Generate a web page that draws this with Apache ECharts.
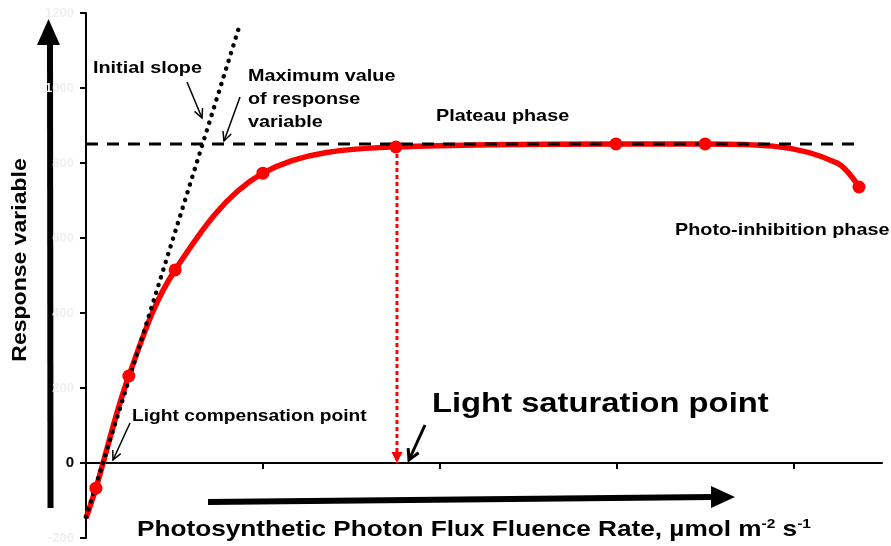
<!DOCTYPE html>
<html><head><meta charset="utf-8">
<script src="https://cdn.jsdelivr.net/npm/echarts@6/dist/echarts.min.js"></script>
<style>html,body{margin:0;padding:0;background:#fff}#c{width:891px;height:546px}</style>
</head><body><div id="c"></div>
<script>
// ---- data ----
const curveX = [0, 28, 121, 252, 500, 876, 1498, 1750, 1942, 2123, 2185];
const curveY = [-147, -67, 232, 515, 773, 843, 851, 851, 845, 800, 736];
const measuredX = [28, 121, 252, 500, 876, 1498, 1750, 2185];
const measuredY = [-67, 232, 515, 773, 843, 851, 851, 736];
const slopeX = [0, 432];
const slopeY = [-144, 1160];
const plateauX = [0, 2186];
const plateauY = [851, 851];
const saturationX = [879, 879];
const saturationY = [843, 0];
const xTickValues = [500, 1000, 1500, 2000];
const yTickValues = [-200, 0, 200, 400, 600, 800, 1000, 1200];

const FONT = '"Liberation Sans", Arial, sans-serif';
const zip = (a, b) => a.map((v, i) => [v, b[i]]);

function arrow(x1, y1, x2, y2, w, hl, ha) {
  const a = Math.atan2(y2 - y1, x2 - x1);
  const p1 = [x2 - hl * Math.cos(a - ha), y2 - hl * Math.sin(a - ha)];
  const p2 = [x2 - hl * Math.cos(a + ha), y2 - hl * Math.sin(a + ha)];
  return [
    {type: 'line', shape: {x1, y1, x2, y2}, style: {stroke: '#000', lineWidth: w}},
    {type: 'polyline', shape: {points: [p1, [x2, y2], p2]}, style: {stroke: '#000', lineWidth: w, fill: 'none'}}
  ];
}
function label(text, x, y, size, sx, extra) {
  return Object.assign({
    type: 'text', x, y, scaleX: sx || 1.2,
    style: {text, font: 'bold ' + size + 'px ' + FONT, fontWeight: 'bold', fontSize: size, fontFamily: FONT,
      fill: '#000', align: 'left', textAlign: 'left', verticalAlign: 'middle', textVerticalAlign: 'middle'}
  }, extra || {});
}

const chart = echarts.init(document.getElementById('c'), null, {renderer: 'canvas'});
const graphics = [
  // big arrows
  {type: 'polygon', shape: {points: [[47, 42], [53, 42], [53.5, 508], [47.5, 508]]}, style: {fill: '#000'}},
  {type: 'polygon', shape: {points: [[37, 45], [60, 45], [48.5, 19]]}, style: {fill: '#000'}},
  {type: 'polygon', shape: {points: [[208, 499], [713, 494], [713, 500], [208, 505]]}, style: {fill: '#000'}},
  {type: 'polygon', shape: {points: [[711, 486], [711, 508], [735, 497]]}, style: {fill: '#000'}},
  // annotation arrows
  ...arrow(187, 82, 202, 118, 1.5, 10, 0.45),
  ...arrow(240, 97, 224, 141, 1.5, 10, 0.45),
  ...arrow(130, 423, 113, 460, 1.5, 10, 0.45),
  ...arrow(425, 425, 409, 460, 3, 12, 0.5),
  // texts
  label('Initial slope', 93, 68, 16.5),
  label('Maximum value', 248, 76, 16.5),
  label('of response', 248, 99, 16.5),
  label('variable', 248, 122, 16.5),
  label('Plateau phase', 436, 116, 16.5),
  label('Photo-inhibition phase', 675, 230, 16.5),
  label('Light compensation point', 132, 417, 16),
  label('Light saturation point', 432, 404, 28, 1.17),
  label('Response variable', 21, 260, 19.5, 1.18, {rotation: Math.PI / 2, style: {
    text: 'Response variable', font: 'bold 19.5px ' + FONT, fill: '#000',
    align: 'center', textAlign: 'center', verticalAlign: 'middle', textVerticalAlign: 'middle'}}),
  {type: 'text', x: 137, y: 530, scaleX: 1.19, style: {
    text: 'Photosynthetic Photon Flux Fluence Rate, µmol m{s|-2} s{s|-1}',
    font: 'bold 22px ' + FONT, fill: '#000', align: 'left', textAlign: 'left',
    verticalAlign: 'middle', textVerticalAlign: 'middle', lineHeight: 24,
    rich: {s: {fontSize: 13, fontWeight: 'bold', fontFamily: FONT, fill: '#000', verticalAlign: 'top', lineHeight: 14}}
  }}
];

chart.setOption({
  animation: false,
  backgroundColor: '#fff',
  grid: {left: 86, right: 9, top: 13, bottom: 8, containLabel: false, outerBoundsMode: 'none'},
  xAxis: {
    type: 'value', min: 0, max: 2250, interval: 500,
    splitLine: {show: false},
    axisLine: {onZero: true, lineStyle: {color: '#000', width: 2}},
    axisTick: {show: true, length: 6, lineStyle: {color: '#000', width: 2}, customValues: xTickValues},
    axisLabel: {customValues: xTickValues, margin: 17, color: '#f0f0f0', fontSize: 13, fontWeight: 'bold', fontFamily: FONT}
  },
  yAxis: {
    type: 'value', min: -200, max: 1200, interval: 200,
    splitLine: {show: false},
    axisLine: {show: true, onZero: false, lineStyle: {color: '#000', width: 2}},
    axisTick: {show: true, length: 6, lineStyle: {color: '#000', width: 2}, customValues: yTickValues},
    axisLabel: {customValues: yTickValues, margin: 12,
      formatter: v => v === 0 ? '{z|0}' : '{f|' + v + '}',
      rich: {
        z: {color: '#000', fontSize: 15, fontWeight: 'bold', fontFamily: FONT},
        f: {color: '#f0f0f0', fontSize: 13, fontWeight: 'bold', fontFamily: FONT}
      }}
  },
  series: [
    {type: 'line', name: 'curve', data: zip(curveX, curveY), smooth: 0.35, showSymbol: false, symbol: 'none',
      lineStyle: {color: '#ff0000', width: 5.5}, z: 2},
    {type: 'line', name: 'plateau', data: zip(plateauX, plateauY), showSymbol: false, symbol: 'none',
      lineStyle: {color: '#000', width: 3, type: [12, 9]}, z: 3},
    {type: 'line', name: 'slope', data: zip(slopeX, slopeY), showSymbol: false, symbol: 'none',
      lineStyle: {color: '#000', width: 4.5, type: [0.1, 8], cap: 'round'}, z: 3},
    {type: 'line', name: 'saturation', z: 4,
      data: [
        {value: [saturationX[0], saturationY[0]], symbol: 'none'},
        {value: [saturationX[1], saturationY[1]], symbol: 'triangle', symbolSize: [11, 11], symbolRotate: 180, symbolOffset: [0, -5.5]}
      ],
      showSymbol: true, showAllSymbol: true,
      itemStyle: {color: '#ff0000', opacity: 1},
      lineStyle: {color: '#ff0000', width: 3, type: [4, 3]}},
    {type: 'scatter', name: 'points', data: zip(measuredX, measuredY), symbolSize: 13,
      itemStyle: {color: '#ff0000', opacity: 1}, z: 5}
  ],
  graphic: graphics
});
</script>
</body></html>
